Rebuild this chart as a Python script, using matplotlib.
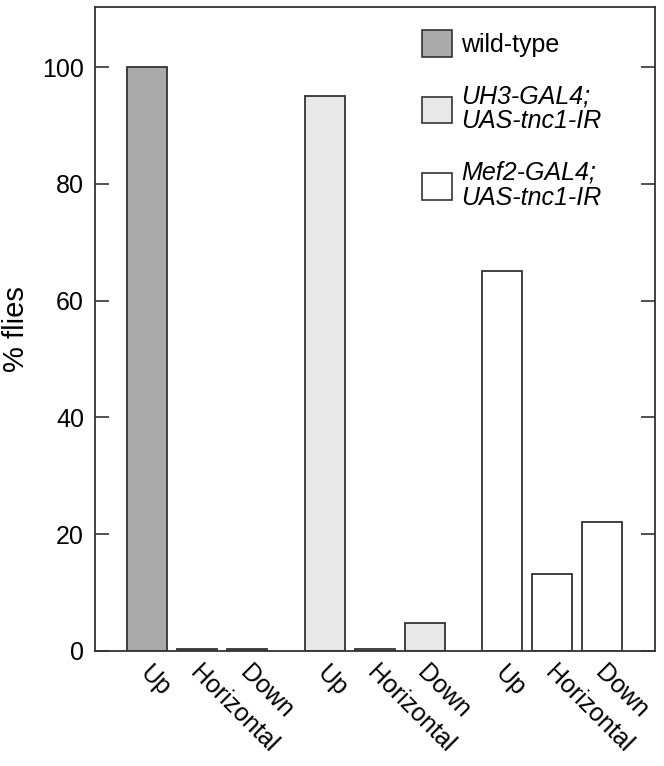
import matplotlib
matplotlib.use("Agg")
import matplotlib.pyplot as plt
import matplotlib.transforms as mtransforms
import numpy as np
from matplotlib.patches import Patch

plt.rcParams['font.family'] = ['Liberation Sans', 'DejaVu Sans']

categories = ["Up", "Horizontal", "Down"]
groups = ["wild-type", "UH3-GAL4;\nUAS-tnc1-IR", "Mef2-GAL4;\nUAS-tnc1-IR"]
values_wt = [100, 0.3, 0.3]
values_uh3 = [95, 0.3, 4.8]
values_mef2 = [65, 13.2, 22.1]
colors = ["#aaaaaa", "#e8e8e8", "#ffffff"]

fig = plt.figure(figsize=(6.64, 7.66), dpi=100)
ax = fig.add_axes([95/664, 1-651/766, (655-95)/664, (651-7)/766])

edge = "#333333"
group_gap = 3.55
allvals = [values_wt, values_uh3, values_mef2]
xs_all, labels_all = [], []
for g, (vals, col) in enumerate(zip(allvals, colors)):
    xs = np.arange(len(categories)) + g * group_gap
    ax.bar(xs, vals, width=0.8, color=col, edgecolor=edge, linewidth=1.3)
    xs_all.extend(xs)
    labels_all.extend(categories)

ax.set_xlim(-1.04, 10.16)
ax.set_ylim(0, 110.3)
ax.set_yticks([0, 20, 40, 60, 80, 100])
ax.tick_params(axis='y', direction='in', length=10, width=1.2, color=edge,
               labelsize=18, right=True, pad=8)
ax.set_xticks(xs_all)
ax.set_xticklabels(labels_all, rotation=-45, ha='left', va='top',
                   rotation_mode='anchor', fontsize=18)
ax.tick_params(axis='x', length=0, pad=7)
offset = mtransforms.ScaledTranslation(5/100, 0, fig.dpi_scale_trans)
for lbl in ax.get_xticklabels():
    lbl.set_transform(lbl.get_transform() + offset)
for s in ax.spines.values():
    s.set_color(edge)
    s.set_linewidth(1.3)
ax.set_ylabel("% flies", fontsize=21)
ax.yaxis.set_label_coords(-(95 - 30) / 560, 0.5)

handles = [Patch(facecolor=c, edgecolor=edge, linewidth=1.2) for c in colors]
leg = fig.legend(handles, groups, loc='upper left',
                 bbox_to_anchor=(422/664, 1 - 30/766),
                 frameon=False, fontsize=18, handlelength=1.2, handleheight=1.28,
                 handletextpad=0.35, labelspacing=1.1, borderaxespad=0,
                 borderpad=0)
for i, t in enumerate(leg.get_texts()):
    t.set_linespacing(1.05)
    if i > 0:
        t.set_fontstyle('italic')

fig.savefig("out.png", dpi=100)
